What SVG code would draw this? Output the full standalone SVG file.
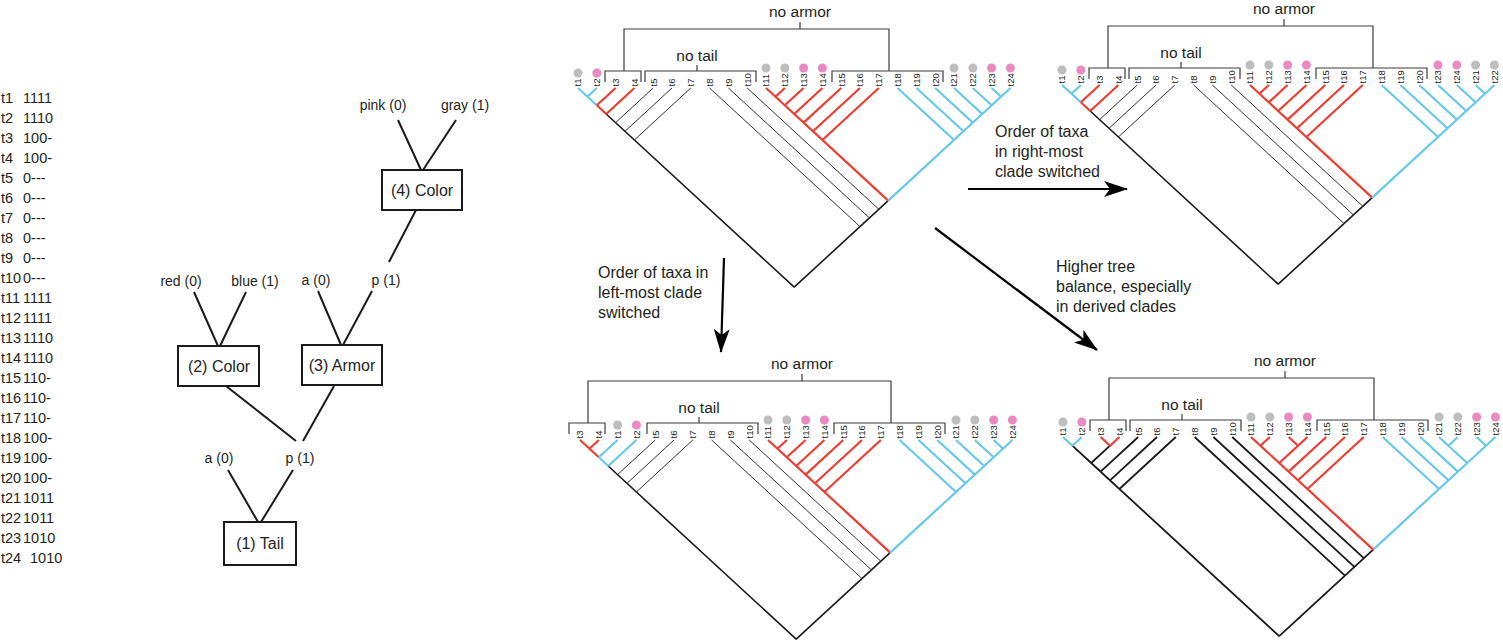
<svg xmlns="http://www.w3.org/2000/svg" xmlns:xlink="http://www.w3.org/1999/xlink" width="1503" height="641" viewBox="0 0 1503 641">
<style>
.rd{fill:none;stroke:#ee3e33;stroke-width:2.2;stroke-linejoin:bevel}
.bl{fill:none;stroke:#68c8ea;stroke-width:2.2;stroke-linejoin:bevel}
.bk{fill:none;stroke:#1a1a1a;stroke-width:1.6;stroke-linejoin:bevel}
.bk2{fill:none;stroke:#1a1a1a;stroke-width:1.8;stroke-linejoin:bevel}
.th{fill:none;stroke:#333;stroke-width:1}
.brk{fill:none;stroke:#3c3c3c;stroke-width:1.2}
.lab{font-family:"Liberation Sans",Arial,sans-serif;font-size:15.5px;text-anchor:middle;fill:#231f20}
.tip{font-family:"Liberation Sans",Arial,sans-serif;font-size:9.5px;fill:#231f20}
.gd{fill:#bcbec0}
.pd{fill:#ea8ac2}
.txt{font-family:"Liberation Sans",Arial,sans-serif;font-size:16px;fill:#231f20}
.ct{font-family:"Liberation Sans",Arial,sans-serif;font-size:14px;fill:#231f20;text-anchor:middle}
.bt{font-family:"Liberation Sans",Arial,sans-serif;font-size:16px;fill:#231f20;text-anchor:middle}
.dl{font-family:"Liberation Sans",Arial,sans-serif;font-size:14.5px;fill:#231f20}
.box{fill:#fff;stroke:#1a1a1a;stroke-width:2}
.edge{fill:none;stroke:#1a1a1a;stroke-width:2}
.arr{fill:none;stroke:#000;stroke-width:2.2}
</style>
<defs>
<marker id="ah" markerUnits="userSpaceOnUse" viewBox="0 0 24 16" refX="23" refY="8" markerWidth="24" markerHeight="16" orient="auto">
<path d="M0,0 L24,8 L0,16 L6,8 Z" fill="#000"/>
</marker>
<g id="core">
<path class="bk" d="M28.2,26 L216.2,199.2 L310.2,112.6"/>
<path class="th" d="M75.2,0 L37.6,34.6 M94,0 L47,43.3 M112.8,0 L56.4,52 M131.6,0 L282,138.6 M150.4,0 L291.4,129.9 M169.2,0 L300.8,121.2"/>
<path class="rd" d="M310.2,112.6 L188,0 M206.8,0 L197.4,8.7 M225.6,0 L206.8,17.3 M244.4,0 L216.2,26 M263.2,0 L225.6,34.6 M282,0 L235,43.3 M300.8,0 L244.4,52"/>
<path class="bl" d="M310.2,112.6 L432.4,0 M413.6,0 L423,8.7 M394.8,0 L413.6,17.3 M376,0 L404.2,26 M357.2,0 L394.8,34.6 M338.4,0 L385.4,43.3 M319.6,0 L376,52"/>
</g>
<g id="brkStd">
<path class="brk" d="M46,-17V-59H311V-17M222,-59V-66M27,-6V-17H63V-6M67,-6V-17H178V-6M119,-17V-23M254,-6V-17H365V-6"/>
<text class="lab" x="222" y="-71">no armor</text>
<text class="lab" x="119" y="-27">no tail</text>
</g>
<g id="dotsStd">
<circle class="gd" cx="0" cy="-15" r="4.5"/><circle class="pd" cx="18.8" cy="-15" r="4.5"/>
<circle class="gd" cx="188" cy="-20" r="4.5"/><circle class="gd" cx="206.8" cy="-20" r="4.5"/>
<circle class="pd" cx="225.6" cy="-20" r="4.5"/><circle class="pd" cx="244.4" cy="-20" r="4.5"/>
<circle class="gd" cx="376" cy="-20" r="4.5"/><circle class="gd" cx="394.8" cy="-20" r="4.5"/>
<circle class="pd" cx="413.6" cy="-20" r="4.5"/><circle class="pd" cx="432.4" cy="-20" r="4.5"/>
</g>
</defs>

<g id="data-list" class="dl">
<text y="103"><tspan x="1">t1</tspan><tspan x="23">1111</tspan></text>
<text y="123"><tspan x="1">t2</tspan><tspan x="23">1110</tspan></text>
<text y="143"><tspan x="1">t3</tspan><tspan x="23">100-</tspan></text>
<text y="163"><tspan x="1">t4</tspan><tspan x="23">100-</tspan></text>
<text y="183"><tspan x="1">t5</tspan><tspan x="23">0---</tspan></text>
<text y="203"><tspan x="1">t6</tspan><tspan x="23">0---</tspan></text>
<text y="223"><tspan x="1">t7</tspan><tspan x="23">0---</tspan></text>
<text y="243"><tspan x="1">t8</tspan><tspan x="23">0---</tspan></text>
<text y="263"><tspan x="1">t9</tspan><tspan x="23">0---</tspan></text>
<text y="283"><tspan x="1">t10</tspan><tspan x="23">0---</tspan></text>
<text y="303"><tspan x="1">t11</tspan><tspan x="23">1111</tspan></text>
<text y="323"><tspan x="1">t12</tspan><tspan x="23">1111</tspan></text>
<text y="343"><tspan x="1">t13</tspan><tspan x="23">1110</tspan></text>
<text y="363"><tspan x="1">t14</tspan><tspan x="23">1110</tspan></text>
<text y="383"><tspan x="1">t15</tspan><tspan x="23">110-</tspan></text>
<text y="403"><tspan x="1">t16</tspan><tspan x="23">110-</tspan></text>
<text y="423"><tspan x="1">t17</tspan><tspan x="23">110-</tspan></text>
<text y="443"><tspan x="1">t18</tspan><tspan x="23">100-</tspan></text>
<text y="463"><tspan x="1">t19</tspan><tspan x="23">100-</tspan></text>
<text y="483"><tspan x="1">t20</tspan><tspan x="23">100-</tspan></text>
<text y="503"><tspan x="1">t21</tspan><tspan x="23">1011</tspan></text>
<text y="523"><tspan x="1">t22</tspan><tspan x="23">1011</tspan></text>
<text y="543"><tspan x="1">t23</tspan><tspan x="23">1010</tspan></text>
<text y="563"><tspan x="1">t24</tspan><tspan x="30">1010</tspan></text>
</g>

<g id="char-tree">
<g id="char-edges">
<path class="edge" d="M398,120 L421,170 M456,120 L423,170 M416,210 L389,262 M318,291 L341,345 M372,291 L343,345 M194,292 L218,346 M246,292 L220,346 M226,386 L296,441 M334,386 L303,441 M228,470 L258,522 M293,470 L261,522"/>
</g>
<g id="n-pink"><text class="ct" x="383" y="110">pink (0)</text></g>
<g id="n-gray"><text class="ct" x="465" y="110">gray (1)</text></g>
<g id="n-color4"><rect class="box" x="382" y="170" width="80" height="40"/><text class="bt" x="422" y="196">(4) Color</text></g>
<g id="n-a3"><text class="ct" x="316" y="285">a (0)</text></g>
<g id="n-p3"><text class="ct" x="386" y="285">p (1)</text></g>
<g id="n-red"><text class="ct" x="181" y="286">red (0)</text></g>
<g id="n-blue"><text class="ct" x="255" y="286">blue (1)</text></g>
<g id="n-color2"><rect class="box" x="178" y="346" width="81" height="40"/><text class="bt" x="219" y="372">(2) Color</text></g>
<g id="n-armor3"><rect class="box" x="302" y="345" width="80" height="40"/><text class="bt" x="342" y="371">(3) Armor</text></g>
<g id="n-a1"><text class="ct" x="219" y="463">a (0)</text></g>
<g id="n-p1"><text class="ct" x="300" y="463">p (1)</text></g>
<g id="n-tail1"><rect class="box" x="224" y="522" width="72" height="43"/><text class="bt" x="260" y="549">(1) Tail</text></g>
</g>

<g id="tree-tl" transform="translate(578,88)">
<use xlink:href="#core"/>
<path class="bl" d="M0,0 L18.8,17.3 M18.8,0 L9.4,8.7"/>
<path class="rd" d="M18.8,17.3 L28.2,26 M37.6,0 L18.8,17.3 M56.4,0 L28.2,26"/>
<use xlink:href="#brkStd"/>
<use xlink:href="#dotsStd"/>
<g class="tip" transform="rotate(-90)">
<text x="1.5" y="3.4">t1</text><text x="1.5" y="22.2">t2</text><text x="1.5" y="41">t3</text><text x="1.5" y="59.8">t4</text><text x="1.5" y="78.6">t5</text><text x="1.5" y="97.4">t6</text><text x="1.5" y="116.2">t7</text><text x="1.5" y="135">t8</text><text x="1.5" y="153.8">t9</text><text x="1.5" y="172.6">t10</text><text x="1.5" y="191.4">t11</text><text x="1.5" y="210.2">t12</text><text x="1.5" y="229">t13</text><text x="1.5" y="247.8">t14</text><text x="1.5" y="266.6">t15</text><text x="1.5" y="285.4">t16</text><text x="1.5" y="304.2">t17</text><text x="1.5" y="323">t18</text><text x="1.5" y="341.8">t19</text><text x="1.5" y="360.6">t20</text><text x="1.5" y="379.4">t21</text><text x="1.5" y="398.2">t22</text><text x="1.5" y="417">t23</text><text x="1.5" y="435.8">t24</text>
</g>
</g>

<g id="tree-tr" transform="translate(1062,85)">
<use xlink:href="#core"/>
<path class="bl" d="M0,0 L18.8,17.3 M18.8,0 L9.4,8.7"/>
<path class="rd" d="M18.8,17.3 L28.2,26 M37.6,0 L18.8,17.3 M56.4,0 L28.2,26"/>
<use xlink:href="#brkStd"/>
<circle class="gd" cx="0" cy="-15" r="4.5"/><circle class="pd" cx="18.8" cy="-15" r="4.5"/>
<circle class="gd" cx="188" cy="-20" r="4.5"/><circle class="gd" cx="206.8" cy="-20" r="4.5"/>
<circle class="pd" cx="225.6" cy="-20" r="4.5"/><circle class="pd" cx="244.4" cy="-20" r="4.5"/>
<circle class="pd" cx="376" cy="-20" r="4.5"/><circle class="pd" cx="394.8" cy="-20" r="4.5"/>
<circle class="gd" cx="413.6" cy="-20" r="4.5"/><circle class="gd" cx="432.4" cy="-20" r="4.5"/>
<g class="tip" transform="rotate(-90)">
<text x="1.5" y="3.4">t1</text><text x="1.5" y="22.2">t2</text><text x="1.5" y="41">t3</text><text x="1.5" y="59.8">t4</text><text x="1.5" y="78.6">t5</text><text x="1.5" y="97.4">t6</text><text x="1.5" y="116.2">t7</text><text x="1.5" y="135">t8</text><text x="1.5" y="153.8">t9</text><text x="1.5" y="172.6">t10</text><text x="1.5" y="191.4">t11</text><text x="1.5" y="210.2">t12</text><text x="1.5" y="229">t13</text><text x="1.5" y="247.8">t14</text><text x="1.5" y="266.6">t15</text><text x="1.5" y="285.4">t16</text><text x="1.5" y="304.2">t17</text><text x="1.5" y="323">t18</text><text x="1.5" y="341.8">t19</text><text x="1.5" y="360.6">t20</text><text x="1.5" y="379.4">t23</text><text x="1.5" y="398.2">t24</text><text x="1.5" y="417">t21</text><text x="1.5" y="435.8">t22</text>
</g>
</g>

<g id="tree-bl" transform="translate(580,440)">
<use xlink:href="#core"/>
<path class="rd" d="M0,0 L18.8,17.3 M18.8,0 L9.4,8.7"/>
<path class="bl" d="M18.8,17.3 L28.2,26 M37.6,0 L18.8,17.3 M56.4,0 L28.2,26"/>
<path class="brk" d="M8,-17V-59H311V-17M222,-59V-66M-11,-6V-17H25V-6M67,-6V-17H178V-6M119,-17V-23M254,-6V-17H365V-6"/>
<text class="lab" x="222" y="-71">no armor</text>
<text class="lab" x="119" y="-27">no tail</text>
<circle class="gd" cx="37.6" cy="-15" r="4.5"/><circle class="pd" cx="56.4" cy="-15" r="4.5"/>
<circle class="gd" cx="188" cy="-20" r="4.5"/><circle class="gd" cx="206.8" cy="-20" r="4.5"/>
<circle class="pd" cx="225.6" cy="-20" r="4.5"/><circle class="pd" cx="244.4" cy="-20" r="4.5"/>
<circle class="gd" cx="376" cy="-20" r="4.5"/><circle class="gd" cx="394.8" cy="-20" r="4.5"/>
<circle class="pd" cx="413.6" cy="-20" r="4.5"/><circle class="pd" cx="432.4" cy="-20" r="4.5"/>
<g class="tip" transform="rotate(-90)">
<text x="1.5" y="3.4">t3</text><text x="1.5" y="22.2">t4</text><text x="1.5" y="41">t1</text><text x="1.5" y="59.8">t2</text><text x="1.5" y="78.6">t5</text><text x="1.5" y="97.4">t6</text><text x="1.5" y="116.2">t7</text><text x="1.5" y="135">t8</text><text x="1.5" y="153.8">t9</text><text x="1.5" y="172.6">t10</text><text x="1.5" y="191.4">t11</text><text x="1.5" y="210.2">t12</text><text x="1.5" y="229">t13</text><text x="1.5" y="247.8">t14</text><text x="1.5" y="266.6">t15</text><text x="1.5" y="285.4">t16</text><text x="1.5" y="304.2">t17</text><text x="1.5" y="323">t18</text><text x="1.5" y="341.8">t19</text><text x="1.5" y="360.6">t20</text><text x="1.5" y="379.4">t21</text><text x="1.5" y="398.2">t22</text><text x="1.5" y="417">t23</text><text x="1.5" y="435.8">t24</text>
</g>
</g>

<g id="tree-br" transform="translate(1063,437)">
<path class="bk2" d="M9.4,8.7 L28.2,26 L216.2,199.2 L310.2,112.6 M47,8.7 L28.2,26 M75.2,0 L37.6,34.6 M94,0 L47,43.3 M112.8,0 L56.4,52 M131.6,0 L282,138.6 M150.4,0 L291.4,129.9 M169.2,0 L300.8,121.2"/>
<path class="bl" d="M0,0 L9.4,8.7 L18.8,0 M376,0 L385.4,8.7 L394.8,0 M385.4,8.7 L404.2,26 M413.6,0 L423,8.7 L432.4,0 M423,8.7 L404.2,26 L310.2,112.6 M357.2,0 L394.8,34.6 M338.4,0 L385.4,43.3 M319.6,0 L376,52"/>
<path class="rd" d="M37.6,0 L47,8.7 L56.4,0 M188,0 L197.4,8.7 L206.8,0 M197.4,8.7 L216.2,26 M225.6,0 L235,8.7 L244.4,0 M235,8.7 L216.2,26 L310.2,112.6 M263.2,0 L225.6,34.6 M282,0 L235,43.3 M300.8,0 L244.4,52"/>
<use xlink:href="#brkStd"/>
<use xlink:href="#dotsStd"/>
<g class="tip" transform="rotate(-90)">
<text x="1.5" y="3.4">t1</text><text x="1.5" y="22.2">t2</text><text x="1.5" y="41">t3</text><text x="1.5" y="59.8">t4</text><text x="1.5" y="78.6">t5</text><text x="1.5" y="97.4">t6</text><text x="1.5" y="116.2">t7</text><text x="1.5" y="135">t8</text><text x="1.5" y="153.8">t9</text><text x="1.5" y="172.6">t10</text><text x="1.5" y="191.4">t11</text><text x="1.5" y="210.2">t12</text><text x="1.5" y="229">t13</text><text x="1.5" y="247.8">t14</text><text x="1.5" y="266.6">t15</text><text x="1.5" y="285.4">t16</text><text x="1.5" y="304.2">t17</text><text x="1.5" y="323">t18</text><text x="1.5" y="341.8">t19</text><text x="1.5" y="360.6">t20</text><text x="1.5" y="379.4">t21</text><text x="1.5" y="398.2">t22</text><text x="1.5" y="417">t23</text><text x="1.5" y="435.8">t24</text>
</g>
</g>

<g id="connectors">
<line class="arr" x1="968" y1="189" x2="1127" y2="189" marker-end="url(#ah)"/>
<line class="arr" x1="724" y1="258" x2="721" y2="352" marker-end="url(#ah)"/>
<line class="arr" x1="935" y1="228" x2="1097" y2="350" marker-end="url(#ah)"/>
</g>

<g id="arrow-labels" class="txt">
<text x="995" y="137">Order of taxa</text>
<text x="995" y="157">in right-most</text>
<text x="995" y="177">clade switched</text>
<text x="598" y="278">Order of taxa in</text>
<text x="598" y="298">left-most clade</text>
<text x="598" y="318">switched</text>
<text x="1056" y="272">Higher tree</text>
<text x="1056" y="292">balance, especially</text>
<text x="1056" y="312">in derived clades</text>
</g>
</svg>
